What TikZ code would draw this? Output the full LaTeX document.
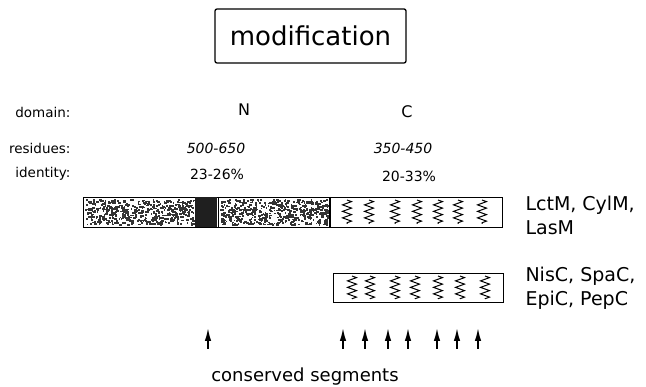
\documentclass[tikz,border=0pt]{standalone}
\usepackage{fontspec}
\setmainfont{DejaVu Sans}
\usetikzlibrary{arrows.meta, positioning, decorations.pathmorphing}

\begin{document}
\begin{tikzpicture}[
    x=1pt, y=-1pt,
    >={Latex[length=13pt, width=6.5pt]},
    titlebox/.style={
        draw,
        line width=1.3pt,
        rounded corners=2pt,
        minimum width=191pt,
        minimum height=54pt,
        font=\fontsize{26}{30}\selectfont
    },
    rowlabel/.style={
        anchor=east,
        font=\fontsize{13.5}{16}\selectfont
    },
    domlabel/.style={font=\fontsize{16}{19}\selectfont},
    value/.style={font=\fontsize{14}{17}\selectfont},
    enzyme/.style={
        anchor=west,
        align=left,
        font=\fontsize{19}{24}\selectfont
    },
    bar/.style={
        draw,
        line width=1.2pt,
        inner sep=0pt,
        anchor=north west
    },
    zig/.style={
        decorate,
        decoration={zigzag, segment length=6.5pt, amplitude=4.5pt},
        line width=1pt
    },
    segarrow/.style={->, line width=1.6pt}
]
\useasboundingbox (0,0) rectangle (646,387);

% Titel
\node[titlebox] (title) at (310.5,36) {modification};

% Zeilenbeschriftung
\node[rowlabel] (domain) at (74,112) {domain:};
\node[rowlabel] (residues) at (74,148) {residues:};
\node[rowlabel] (identity) at (74,174) {identity:};

% Domaenen N und C
\node[domlabel] (domN) at (244,110) {N};
\node[domlabel] (domC) at (407,112) {C};
\node[value, font=\fontsize{14}{17}\selectfont\itshape] (resN) at (216,148) {500-650};
\node[value, font=\fontsize{14}{17}\selectfont\itshape] (resC) at (403,148) {350-450};
\node[value] (idN) at (217,174) {23-26\%};
\node[value] (idC) at (409,176) {20-33\%};

% Balken 1: LanM
\node[bar, minimum width=419pt, minimum height=30pt] (lanm) at (83,197) {};
\pgfmathsetseed{42}
\foreach \i in {1,...,520} {
    \pgfmathsetmacro\sx{85+108*rnd}
    \pgfmathsetmacro\sy{199+25*rnd}
    \pgfmathsetmacro\sw{1.2+1.6*rnd}
    \fill[black!80] (\sx,\sy) rectangle ++(\sw,1.8);
    \pgfmathsetmacro\tx{220+107*rnd}
    \pgfmathsetmacro\ty{199+25*rnd}
    \fill[black!80] (\tx,\ty) rectangle ++(\sw,1.8);
}
\fill[black!88] (195,197) rectangle (217,227);
\draw[line width=0.9pt] (218,197) -- (218,227);
\draw[line width=1.2pt] (330,197) -- (330,227);
\foreach \zx in {347,369,395,417,438,458,482}
    \draw[zig] (\zx,200) -- (\zx,224);
\node[enzyme] (lanmname) at (522,215) {LctM, CylM,\\LasM};

% Balken 2: LanC
\node[bar, minimum width=170pt, minimum height=29pt] (lanc) at (333,273) {};
\foreach \zx in {352,370,395,415,438,460,485}
    \draw[zig] (\zx,276) -- (\zx,299);
\node[enzyme] (lancname) at (522,288) {NisC, SpaC,\\EpiC, PepC};

% Konservierte Segmente
\foreach \ax in {208,343,365,388,408,437,457,478}
    \draw[segarrow] (\ax,349) -- (\ax,328);
\node[font=\fontsize{18}{21}\selectfont] (conserved) at (305,377) {conserved segments};

\end{tikzpicture}
\end{document}
